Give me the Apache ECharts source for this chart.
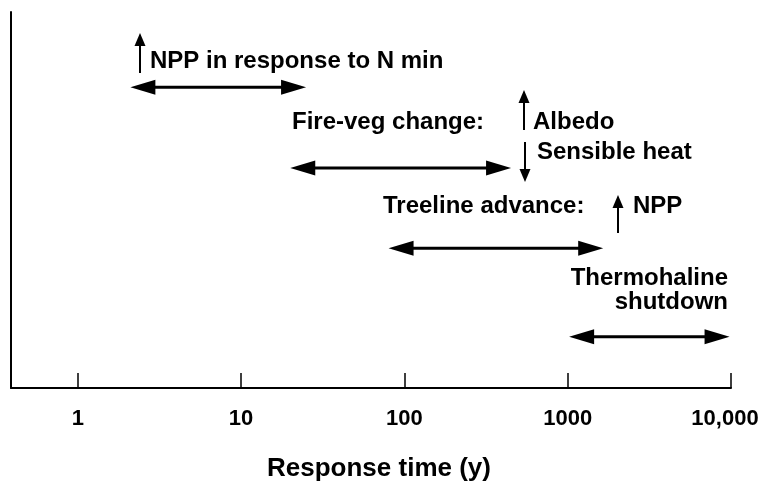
<!DOCTYPE html>
<html>
<head>
<meta charset="utf-8">
<script src="https://cdn.jsdelivr.net/npm/echarts@6/dist/echarts.min.js"></script>
<style>
  html, body { margin: 0; background: #fff; }
  #chart { width: 759px; height: 485px; }
</style>
</head>
<body>
<div id="chart"></div>
<script>
// response-time ranges (years), one row per process
const processes = ['NPP in response to N min', 'Fire-veg change', 'Treeline advance', 'Thermohaline shutdown']
const rangeStart = [2.1, 20, 80, 1020]
const rangeEnd = [25, 450, 1650, 9800]
const rowLevel = [80, 58.5, 37.2, 13.6]   // vertical slot of each row (0 = axis, 100 = top)
const tickValues = [1, 10, 100, 1000, 10000]
const tickLabels = ['1', '10', '100', '1000', '10,000']

const FONT = '"Liberation Sans", Arial, Helvetica, sans-serif'
const chart = echarts.init(document.getElementById('chart'), null, { renderer: 'canvas' })

const rows = processes.map((p, i) => [rangeStart[i], rangeEnd[i], rowLevel[i], p])

// small vertical arrow (used inside the text annotations)
const vArrow = (x, tip, tail) => {
  const dir = tail > tip ? 1 : -1
  const head = 13, hw = 5.5
  return {
    type: 'group',
    children: [
      { type: 'line', shape: { x1: x, y1: tip + dir * (head - 2), x2: x, y2: tail }, style: { stroke: '#000', lineWidth: 2 } },
      { type: 'polygon', shape: { points: [[x, tip], [x - hw, tip + dir * head], [x + hw, tip + dir * head]] }, style: { fill: '#000' } }
    ]
  }
}

const txt = (x, y, text, align) => ({
  type: 'text', x, y,
  style: { text, fill: '#000', font: 'bold 24px ' + FONT, align: align || 'left', verticalAlign: 'middle' }
})

const option = {
  backgroundColor: '#fff',
  animation: false,
  grid: { left: 11, right: 28, top: 12, bottom: 97, containLabel: false, outerBoundsMode: 'none' },
  xAxis: {
    type: 'log',
    logBase: 10,
    min: 0.39,
    max: 10000,
    name: 'Response time (y)',
    nameLocation: 'middle',
    nameGap: 68,
    nameTextStyle: { fontFamily: FONT, fontSize: 26, fontWeight: 'bold', color: '#000', padding: [0, 0, 0, 16] },
    axisLine: { show: true, lineStyle: { color: '#000', width: 2 } },
    axisTick: { show: true, inside: true, length: 15, lineStyle: { color: '#000', width: 1.5 } },
    splitLine: { show: false },
    minorTick: { show: false },
    axisLabel: {
      margin: 20,
      showMinLabel: false,
      fontFamily: FONT, fontSize: 22, fontWeight: 'bold', color: '#000',
      formatter: (v) => {
        const i = tickValues.findIndex(t => Math.abs(t - v) / t < 1e-6)
        if (i < 0) return ''
        return i === tickValues.length - 1 ? '{last|' + tickLabels[i] + '}' : tickLabels[i]
      },
      rich: { last: { fontFamily: FONT, fontSize: 22, fontWeight: 'bold', color: '#000', padding: [0, 12, 0, 0] } }
    }
  },
  yAxis: {
    type: 'value',
    min: 0,
    max: 100,
    axisLine: { show: true, lineStyle: { color: '#000', width: 2 } },
    axisTick: { show: false },
    axisLabel: { show: false },
    splitLine: { show: false }
  },
  series: [{
    type: 'custom',
    data: rows,
    encode: { x: [0, 1], y: 2 },
    renderItem: (params, api) => {
      const a = api.coord([api.value(0), api.value(2)])
      const b = api.coord([api.value(1), api.value(2)])
      const hl = 25, hw = 7.5
      return {
        type: 'group',
        children: [
          { type: 'line', shape: { x1: a[0] + hl - 3, y1: a[1], x2: b[0] - hl + 3, y2: b[1] }, style: { stroke: '#000', lineWidth: 3 } },
          { type: 'polygon', shape: { points: [[a[0], a[1]], [a[0] + hl, a[1] - hw], [a[0] + hl, a[1] + hw]] }, style: { fill: '#000' } },
          { type: 'polygon', shape: { points: [[b[0], b[1]], [b[0] - hl, b[1] - hw], [b[0] - hl, b[1] + hw]] }, style: { fill: '#000' } }
        ]
      }
    }
  }],
  graphic: [
    vArrow(140, 33, 73),
    txt(150, 61, 'NPP in response to N min'),
    txt(292, 122, 'Fire-veg change:'),
    vArrow(524, 90, 130),
    txt(533, 122, 'Albedo'),
    vArrow(525, 182, 142),
    txt(537, 152, 'Sensible heat'),
    txt(383, 206, 'Treeline advance:'),
    vArrow(618, 195, 233),
    txt(633, 206, 'NPP'),
    txt(728, 278, 'Thermohaline', 'right'),
    txt(728, 302, 'shutdown', 'right')
  ]
}

chart.setOption(option)
</script>
</body>
</html>
